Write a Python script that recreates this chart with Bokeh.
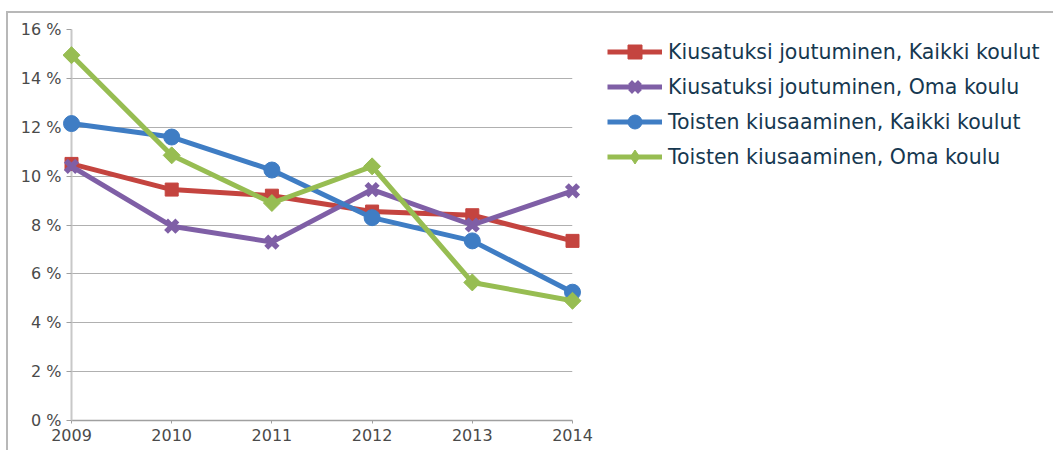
from bokeh.plotting import figure
from bokeh.models import Range1d, FixedTicker, PrintfTickFormatter, Legend, LegendItem
from bokeh.embed import file_html
from bokeh.resources import INLINE
import numpy as np

years = [2009, 2010, 2011, 2012, 2013, 2014]
kiusatuksi_kaikki = [10.5, 9.45, 9.2, 8.55, 8.4, 7.35]
kiusatuksi_oma = [10.4, 7.95, 7.3, 9.45, 8.0, 9.4]
toisten_kaikki = [12.15, 11.6, 10.25, 8.3, 7.35, 5.25]
toisten_oma = [14.95, 10.85, 8.9, 10.4, 5.65, 4.9]
series_labels = [
    "Kiusatuksi joutuminen, Kaikki koulut",
    "Kiusatuksi joutuminen, Oma koulu",
    "Toisten kiusaaminen, Kaikki koulut",
    "Toisten kiusaaminen, Oma koulu",
]
y_ticks = [0, 2, 4, 6, 8, 10, 12, 14, 16]

colors = ["#c4443f", "#7f5fa6", "#3f7dc4", "#97bd52"]

p = figure(
    frame_width=501, frame_height=391,
    min_border_left=63, min_border_top=16, min_border_bottom=30, min_border_right=470,
    x_range=Range1d(years[0], years[-1]), y_range=Range1d(y_ticks[0], y_ticks[-1]),
    output_backend="svg", toolbar_location=None,
)
p.outline_line_color = None
p.background_fill_color = "white"
p.border_fill_color = "white"
p.styles = {"border-top": "2px solid #b8b8b8", "border-left": "2px solid #b8b8b8",
            "margin-top": "11px", "margin-left": "6px"}

p.xgrid.grid_line_color = None
p.ygrid.grid_line_color = "#b0b0b0"
p.ygrid.grid_line_width = 1

p.xaxis.ticker = FixedTicker(ticks=years)
p.xaxis.formatter = PrintfTickFormatter(format="%d")
p.yaxis.ticker = FixedTicker(ticks=y_ticks)
p.yaxis.formatter = PrintfTickFormatter(format="%d %%")
for ax in (p.xaxis, p.yaxis):
    ax.major_label_text_font = "DejaVu Sans"
    ax.major_label_text_font_size = "16px"
    ax.major_label_text_color = "#4a4a4a"
    ax.minor_tick_line_color = None
    ax.major_tick_in = 0
p.xaxis.axis_line_color = "#a0a0a0"
p.xaxis.axis_line_width = 1.5
p.xaxis.major_tick_line_color = "#a0a0a0"
p.xaxis.major_tick_out = 3
p.xaxis.major_label_standoff = 5
p.yaxis.axis_line_color = "#c8c8c8"
p.yaxis.axis_line_width = 2
p.yaxis.major_tick_line_color = "#a0a0a0"
p.yaxis.major_tick_out = 5
p.yaxis.major_label_standoff = 5

items = []
# series 1: squares
ln = p.line(years, kiusatuksi_kaikki, line_color=colors[0], line_width=5, level="overlay")
sc = p.scatter(years, kiusatuksi_kaikki, marker="square", size=13, fill_color=colors[0],
               line_color=colors[0], level="overlay")
items.append(LegendItem(label=series_labels[0], renderers=[ln, sc]))
# series 2: crosses
ln = p.line(years, kiusatuksi_oma, line_color=colors[1], line_width=5, level="overlay")
sc = p.scatter(years, kiusatuksi_oma, marker="x", size=16, line_color=colors[1],
               line_width=5.5, level="overlay")
items.append(LegendItem(label=series_labels[1], renderers=[ln, sc]))
# series 3: circles
ln = p.line(years, toisten_kaikki, line_color=colors[2], line_width=5, level="overlay")
sc = p.scatter(years, toisten_kaikki, marker="circle", size=16, fill_color=colors[2],
               line_color=colors[2], level="overlay")
items.append(LegendItem(label=series_labels[2], renderers=[ln, sc]))
# series 4: diamonds
ln = p.line(years, toisten_oma, line_color=colors[3], line_width=5, level="overlay")
dm = p.scatter(years, toisten_oma, marker="diamond", size=15, fill_color=colors[3],
               line_color=colors[3], level="overlay")
p.scatter(years, toisten_oma, marker="square", size=12, angle=np.pi / 4, fill_color=colors[3],
          line_color=colors[3], level="overlay")
items.append(LegendItem(label=series_labels[3], renderers=[ln, dm]))

legend = Legend(
    items=items, location=(35, 246), glyph_width=55, glyph_height=35, spacing=0,
    padding=0, margin=0, label_standoff=6,
    label_text_font="DejaVu Sans", label_text_font_size="20.5px", label_text_color="#163850",
    border_line_color=None, background_fill_alpha=0,
)
p.add_layout(legend, "right")

open("out.html", "w").write(file_html(p, INLINE))
